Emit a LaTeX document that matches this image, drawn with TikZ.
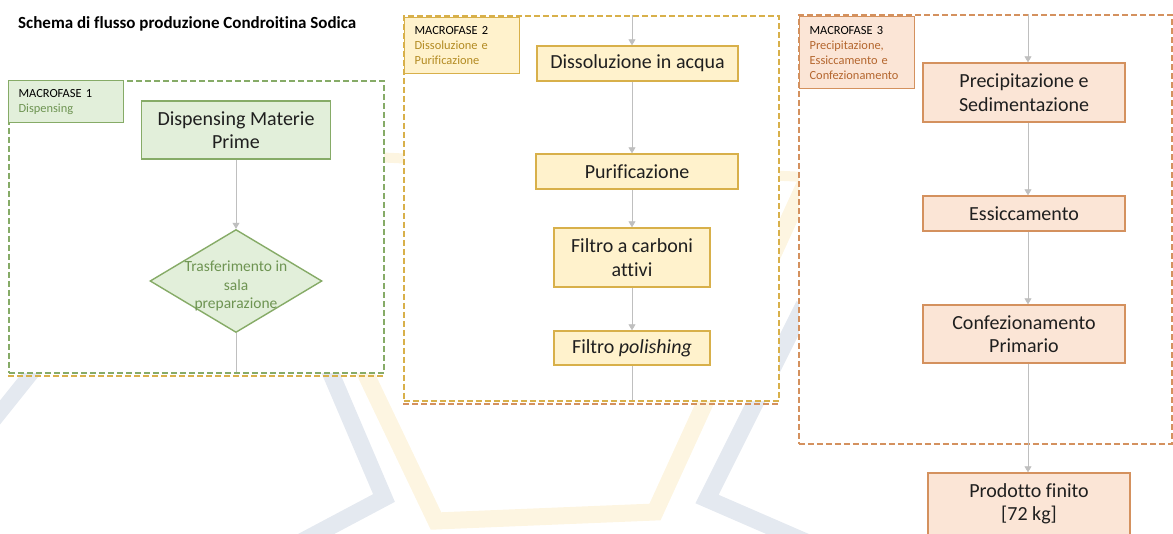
\documentclass[tikz,border=0pt]{standalone}
\usepackage{fontspec}
\setmainfont{Carlito}[Ligatures=NoCommon]
\usetikzlibrary{shapes.geometric,arrows.meta}

\definecolor{verdeF}{HTML}{E2EFDA}
\definecolor{verdeB}{HTML}{86AB67}
\definecolor{verdeT}{HTML}{6E9452}
\definecolor{gialloF}{HTML}{FFF2CC}
\definecolor{gialloB}{HTML}{D8B04A}
\definecolor{gialloT}{HTML}{B38B22}
\definecolor{aranF}{HTML}{FBE5D6}
\definecolor{aranB}{HTML}{D4915E}
\definecolor{aranT}{HTML}{B4662E}
\definecolor{grigioF}{HTML}{BFBFBF}
\definecolor{filigranaG}{HTML}{E4E9F0}
\definecolor{filigranaY}{HTML}{FDF5E1}

\tikzset{
  fase/.style={draw, line width=1.4pt, align=center, inner sep=0pt,
    font=\fontsize{20}{23.5}\selectfont, text=black!88},
  verde/.style={fase, fill=verdeF, draw=verdeB},
  giallo/.style={fase, fill=gialloF, draw=gialloB},
  arancio/.style={fase, fill=aranF, draw=aranB},
  macro/.style={draw, line width=1.2pt, anchor=north west, align=left,
    inner xsep=10pt, inner ysep=0pt, text width=95pt, minimum width=115pt,
    font=\fontsize{12.4}{15}\selectfont},
  cornice/.style={draw, fill=white, line width=1.8pt, dash pattern=on 6pt off 3pt,
    anchor=north west, inner sep=0pt},
  freccia/.style={draw=grigioF, line width=0.8pt, -{Triangle[width=7pt,length=6pt]}},
  linea/.style={draw=grigioF, line width=0.8pt},
}

\begin{document}
\begin{tikzpicture}[x=1pt, y=-1pt]
\useasboundingbox (0,0) rectangle (1173,533);

\draw[line width=15pt, filigranaG] (-6,420) -- (42,360);
\draw[line width=17pt, filigranaG] (326,362) -- (384,498) -- (286,550);
\draw[line width=17pt, filigranaG] (804,305) -- (707,499) -- (806,542);
\draw[line width=17pt, filigranaY] (360,362) -- (436,521) -- (655,512) -- (806,182);
\draw[line width=10pt, filigranaY] (372,157) -- (806,177);

\node[cornice, draw=verdeB, minimum width=375pt, minimum height=292pt] (fr1) at (8,80) {};
\node[cornice, draw=gialloB, minimum width=375pt, minimum height=385pt] (fr2) at (403,15) {};
\node[cornice, draw=aranB, minimum width=373pt, minimum height=429pt] (fr3) at (798,14) {};
\draw[gialloB, line width=1.8pt, dash pattern=on 6pt off 3pt] ([yshift=-2pt]fr1.south west) -- ([yshift=-2pt]fr1.south east);
\draw[aranB, line width=1.8pt, dash pattern=on 6pt off 3pt] ([yshift=-2pt]fr2.south west) -- ([yshift=-2pt]fr2.south east);

\node[anchor=base west, font=\bfseries\fontsize{17}{20}\selectfont, inner xsep=0pt] (titolo) at (18,28) {Schema di flusso produzione Condroitina Sodica};

\node[macro, fill=verdeF, draw=verdeB, minimum height=42pt] (lab1) at (8,80) {MACROFASE 1\\\color{verdeT}Dispensing};
\node[macro, fill=gialloF, draw=gialloB, minimum height=56pt] (lab2) at (404,17) {MACROFASE 2\\\color{gialloT}Dissoluzione e\\Purificazione};
\node[macro, fill=aranF, draw=aranB, minimum height=72pt] (lab3) at (799,16) {MACROFASE 3\\\color{aranT}Precipitazione,\\Essiccamento e\\Confezionamento};

\node[verde, minimum width=189pt, minimum height=58pt] (dmp) at (236,130) {Dispensing Materie\\Prime};
\node[shape=diamond, draw=verdeB, fill=verdeF, line width=1.4pt, inner sep=0pt,
  minimum width=172pt, minimum height=103pt,
  label={[align=center, text=verdeT, yshift=-5pt, font=\fontsize{15.5}{18.6}\selectfont]center:Trasferimento in\\sala\\preparazione}] (tras) at (236,281) {};
\coordinate (fondo1) at (236,372);
\draw[freccia] (dmp.south) -- (tras.north);
\draw[linea] (tras.south) -- (fondo1);

\coordinate (cima2) at (632,15);
\node[giallo, minimum width=201pt, minimum height=35pt] (dis) at (637.5,63.5) {Dissoluzione in acqua};
\node[giallo, minimum width=202pt, minimum height=35pt] (pur) at (637,171.5) {Purificazione};
\node[giallo, minimum width=156pt, minimum height=59pt] (car) at (632,257.5) {Filtro a carboni\\attivi};
\node[giallo, minimum width=156pt, minimum height=34pt] (pol) at (632,348) {Filtro \textit{polishing}};
\coordinate (fondo2) at (632,400);
\draw[freccia] (cima2) -- (cima2 |- dis.north);
\draw[freccia] (dis.south -| cima2) -- (pur.north -| cima2);
\draw[freccia] (pur.south -| cima2) -- (car.north);
\draw[freccia] (car.south) -- (pol.north);
\draw[linea] (pol.south) -- (fondo2);

\coordinate (cima3) at (1028,14);
\node[arancio, minimum width=202pt, minimum height=59pt] (pre) at (1024,92.5) {Precipitazione e\\Sedimentazione};
\node[arancio, minimum width=202pt, minimum height=35pt] (ess) at (1024,213.5) {Essiccamento};
\node[arancio, minimum width=202pt, minimum height=58pt] (con) at (1024,334) {Confezionamento\\Primario};
\node[arancio, minimum width=202pt, minimum height=62pt] (pro) at (1029,504) {Prodotto finito\\{[72 kg]}};
\draw[freccia] (cima3) -- (cima3 |- pre.north);
\draw[freccia] (pre.south -| cima3) -- (ess.north -| cima3);
\draw[freccia] (ess.south -| cima3) -- (con.north -| cima3);
\draw[freccia] (con.south -| cima3) -- (pro.north -| cima3);
\end{tikzpicture}
\end{document}
